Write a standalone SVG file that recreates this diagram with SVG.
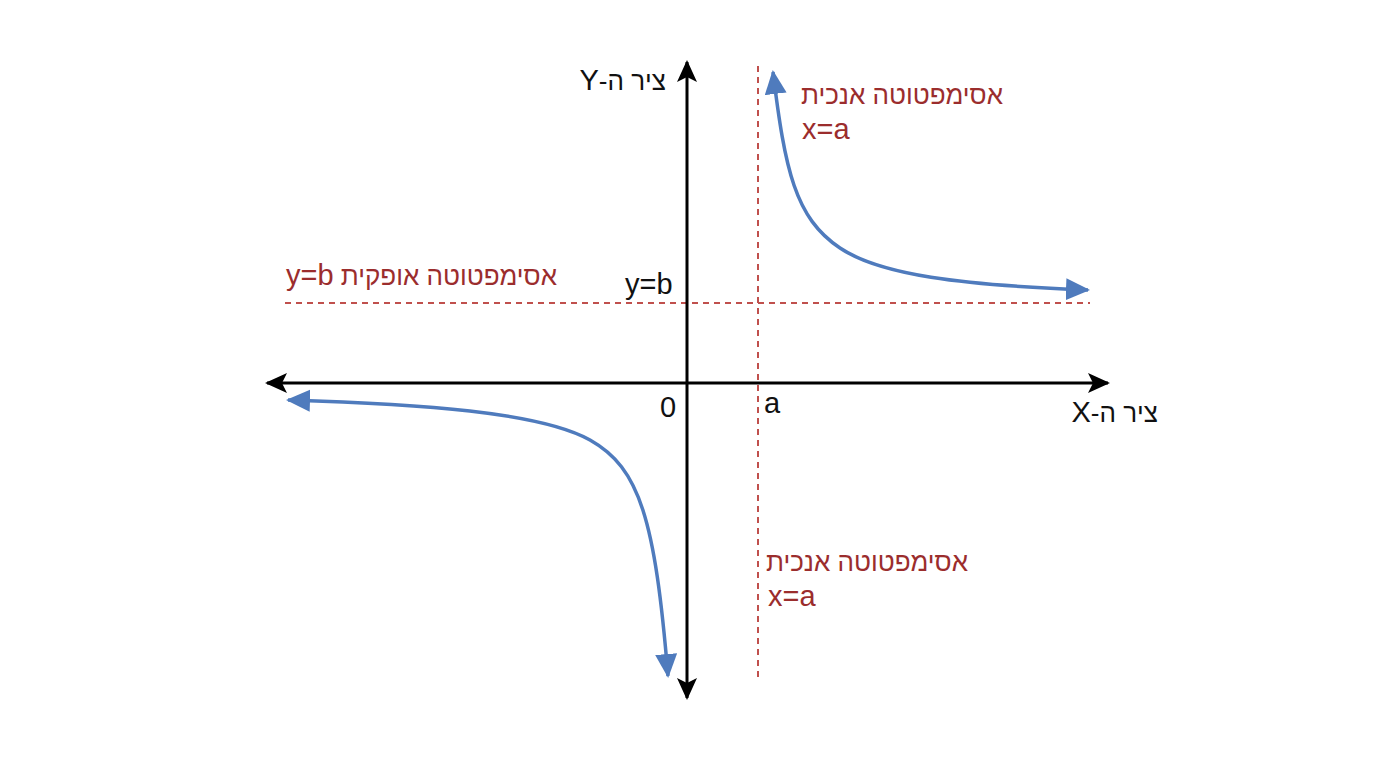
<svg xmlns="http://www.w3.org/2000/svg" width="1376" height="768" viewBox="0 0 1376 768">
<style>
.ax{stroke:#000;stroke-width:3;fill:none}
.asy{stroke:#c0504d;stroke-width:2;stroke-dasharray:6 5;fill:none}
.crv{stroke:#4f7bbd;stroke-width:3.5;fill:none}
.t{font-family:"Liberation Sans",Arial,sans-serif;font-size:26px}
.l{font-size:29px}
.blk{fill:#111}
.red{fill:#9b2d2d}
</style>
<defs>
<marker id="ab" markerUnits="userSpaceOnUse" markerWidth="24" markerHeight="22" refX="20" refY="10" orient="auto">
<path d="M0,0 L22,10 L0,20 L5,10 Z" fill="#000"/>
</marker>
<marker id="bb" markerUnits="userSpaceOnUse" markerWidth="26" markerHeight="24" refX="22" refY="11" orient="auto-start-reverse">
<path d="M0,0 L24,11 L0,22 Z" fill="#4f7bbd"/>
</marker>
</defs>
<rect width="1376" height="768" fill="#fff"/>
<g id="asymptotes">
<line class="asy" x1="758" y1="66" x2="758" y2="682"/>
<line class="asy" x1="285" y1="303" x2="1090" y2="303"/>
</g>
<g id="axes">
<line class="ax" x1="687" y1="383" x2="1108" y2="383" marker-end="url(#ab)"/>
<line class="ax" x1="687" y1="383" x2="267" y2="383" marker-end="url(#ab)"/>
<line class="ax" x1="687" y1="383" x2="687" y2="62" marker-end="url(#ab)"/>
<line class="ax" x1="687" y1="383" x2="687" y2="698" marker-end="url(#ab)"/>
</g>
<g id="curves">
<path class="crv" d="M1088,290 C960,285 880,275 840,248 C795,218 785,170 773,72" marker-start="url(#bb)" marker-end="url(#bb)"/>
<path class="crv" d="M288,400 C420,404 540,412 590,440 C640,468 655,520 668,676" marker-start="url(#bb)" marker-end="url(#bb)"/>
</g>
<g id="labels">
<text class="t blk" x="666" y="90" direction="rtl" text-anchor="start">ציר ה-<tspan class="l">Y</tspan></text>
<text class="t red" x="1003" y="104" direction="rtl" text-anchor="start">אסימפטוטה אנכית</text>
<text class="t l red" x="802" y="139">x=a</text>
<text class="t red" x="557" y="285" direction="rtl" text-anchor="start">אסימפטוטה אופקית <tspan class="l">y=b</tspan></text>
<text class="t l blk" x="625" y="294">y=b</text>
<text class="t l blk" x="660" y="417">0</text>
<text class="t l blk" x="764" y="413">a</text>
<text class="t blk" x="1158" y="422" direction="rtl" text-anchor="start">ציר ה-<tspan class="l">X</tspan></text>
<text class="t red" x="968" y="571" direction="rtl" text-anchor="start">אסימפטוטה אנכית</text>
<text class="t l red" x="768" y="606">x=a</text>
</g>
</svg>
